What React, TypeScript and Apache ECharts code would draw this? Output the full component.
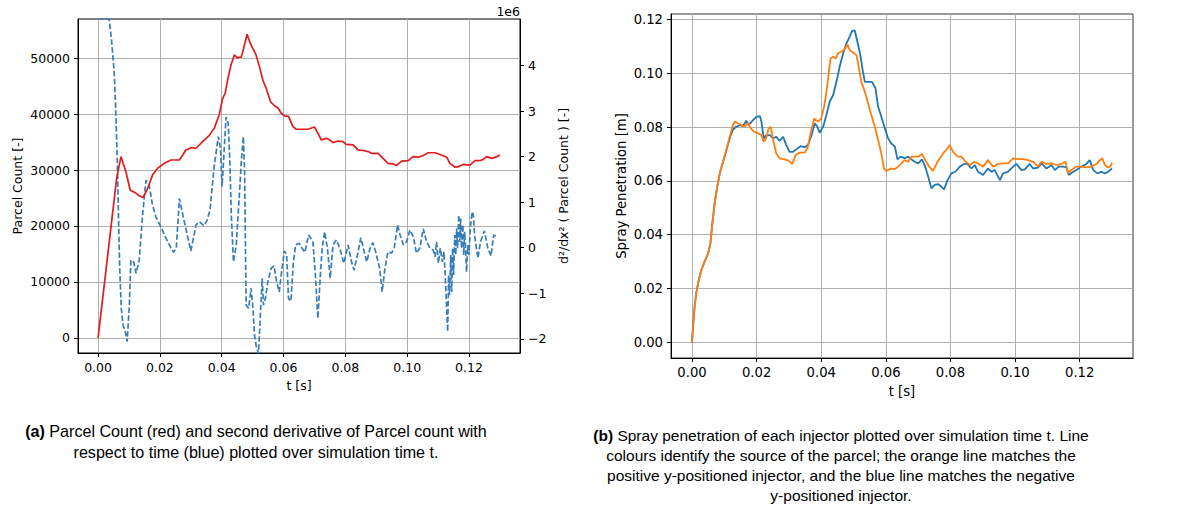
import React, { useEffect, useRef } from "react";
import * as echarts from "echarts";

// ---------- data ----------
// Left panel: Parcel count [-] over t [s]
const parcelCount: [number, number][] = [
  [0, 0], [0.006, 28500], [0.0074, 32400], [0.009, 29700], [0.0104, 26400], [0.0119, 26000],
  [0.0133, 25400], [0.0146, 25100], [0.016, 26700], [0.0176, 29100], [0.0192, 30300], [0.0214, 31200],
  [0.0236, 31800], [0.0263, 31800], [0.0274, 32700], [0.0284, 33600], [0.0301, 34000], [0.0317, 33900],
  [0.0338, 35100], [0.036, 36200], [0.0376, 37500], [0.0392, 39900], [0.0403, 42800], [0.0411, 43700],
  [0.0419, 46100], [0.043, 48800], [0.0441, 50600], [0.0449, 50100], [0.0463, 50200], [0.0471, 51800],
  [0.0482, 54300], [0.049, 53000], [0.05, 51800], [0.0511, 50600], [0.0522, 48500], [0.0533, 46100],
  [0.0544, 44600], [0.0558, 42200], [0.0571, 41500], [0.0582, 41100], [0.0592, 40200], [0.0603, 39700],
  [0.0616, 39600], [0.063, 37800], [0.0641, 37300], [0.0655, 37300], [0.0679, 37300], [0.07, 37700],
  [0.0711, 36600], [0.0722, 35400], [0.0738, 35700], [0.0749, 35400], [0.076, 34900], [0.0776, 35200],
  [0.0792, 35100], [0.0803, 34600], [0.0825, 34500], [0.0841, 33600], [0.0857, 33500], [0.0874, 33300],
  [0.0884, 33000], [0.0906, 33000], [0.0922, 32100], [0.0938, 31200], [0.0955, 31100], [0.0965, 30800],
  [0.0982, 31600], [0.1003, 31700], [0.1019, 32400], [0.1036, 32300], [0.1052, 32600], [0.1068, 33100],
  [0.109, 33100], [0.1111, 32700], [0.1128, 32300], [0.1138, 31200], [0.1155, 30500], [0.1165, 30600],
  [0.1182, 31000], [0.1203, 30900], [0.1219, 31700], [0.1236, 31700], [0.1246, 31900], [0.1257, 32400],
  [0.1274, 32100], [0.129, 32400], [0.13, 32700],
];

// Left panel: second derivative of parcel count (units of 1e6)
const secondDerivE6: [number, number][] = [
  [0, 5.02], [0.0036, 5.02], [0.0044, 4.52], [0.0052, 3.86], [0.0057, 3.06], [0.0063, 1.67],
  [0.0067, 0.35], [0.007, -0.45], [0.0075, -1.33], [0.0081, -1.7], [0.0088, -1.84], [0.0094, -2.06],
  [0.0101, -1.26], [0.0106, -0.27], [0.0115, -0.31], [0.0123, -0.56], [0.0133, -0.27], [0.0144, 0.72],
  [0.0155, 1.48], [0.0165, 1.38], [0.0176, 0.94], [0.0187, 0.68], [0.0203, 0.46], [0.0225, 0.13],
  [0.0244, -0.1], [0.0253, -0.01], [0.0263, 1.08], [0.0279, 0.57], [0.03, -0.07], [0.0317, 0.5],
  [0.0328, 0.57], [0.0342, 0.48], [0.0352, 0.59], [0.0362, 0.83], [0.0376, 1.81], [0.0389, 2.44],
  [0.0396, 2.18], [0.0401, 1.34], [0.0407, 2.03], [0.0414, 2.87], [0.0421, 2.73], [0.0426, 1.96],
  [0.0431, 0.72], [0.0438, -0.31], [0.0447, 0.06], [0.0457, 1.16], [0.0464, 1.96], [0.047, 2.44],
  [0.0474, 1.67], [0.0479, -1.26], [0.0487, -1.33], [0.0495, -0.89], [0.0501, -1.33], [0.0506, -1.92],
  [0.0512, -2.17], [0.0519, -2.32], [0.0525, -1.48], [0.0531, -0.67], [0.0535, -1.26], [0.0542, -1.08],
  [0.0549, -0.75], [0.056, -0.45], [0.0569, -0.4], [0.0578, -0.75], [0.0586, -0.97], [0.0595, -0.45],
  [0.0603, -0.07], [0.061, -0.16], [0.0616, -1.11], [0.0624, -1.17], [0.0631, -0.38], [0.0639, 0.06],
  [0.065, 0.1], [0.066, -0.01], [0.0669, -0.1], [0.0681, 0.28], [0.0695, 0.13], [0.0703, -0.6],
  [0.0711, -1.55], [0.0719, -0.6], [0.0725, -0.01], [0.0733, 0.35], [0.0742, -0.01], [0.0751, -0.67],
  [0.076, 0.06], [0.0771, 0.17], [0.0782, -0.01], [0.0795, -0.34], [0.0809, 0.06], [0.082, -0.31],
  [0.0828, -0.49], [0.0839, -0.16], [0.085, 0.22], [0.0861, -0.09], [0.0869, -0.31], [0.088, -0.01],
  [0.0889, 0.11], [0.0898, -0.09], [0.0911, -0.45], [0.0919, -0.97], [0.0928, -0.45], [0.0938, -0.09],
  [0.0949, -0.12], [0.0958, -0.01], [0.0969, 0.5], [0.0977, 0.28], [0.0988, 0.06], [0.0998, 0.13],
  [0.1009, 0.39], [0.102, 0.24], [0.103, -0.12], [0.1041, -0.01], [0.1052, 0.42], [0.1063, 0.13],
  [0.1074, -0.01], [0.1084, -0.05], [0.109, -0.2], [0.1095, 0.13], [0.1101, -0.34], [0.1107, -0.01],
  [0.1114, -0.31], [0.1119, -0.09], [0.1124, -0.75], [0.1131, -1.84], [0.1134, -0.6], [0.1137, -1.04],
  [0.1141, -0.16], [0.1144, -0.97], [0.1147, -0.01], [0.115, -0.6], [0.1154, 0.28], [0.1157, -0.16],
  [0.116, 0.42], [0.1163, -0.01], [0.1167, 0.72], [0.117, 0.13], [0.1173, 0.64], [0.1176, -0.01],
  [0.118, 0.5], [0.1183, -0.16], [0.1186, 0.35], [0.1189, -0.01], [0.1192, -0.53], [0.1196, 0.06],
  [0.12, -0.16], [0.1204, 0.42], [0.121, 0.79], [0.1214, 0.72], [0.1218, 0.28], [0.1224, -0.01],
  [0.1229, -0.23], [0.1237, 0.13], [0.125, 0.37], [0.1261, -0.01], [0.1271, -0.18], [0.128, 0.28],
  [0.1291, 0.24],
];

// Right panel: spray penetration [m], positive y-positioned injector (orange)
const penetrationPos: [number, number][] = [
  [0, 0], [0.0004, 0.0071], [0.0008, 0.0133], [0.0013, 0.0182], [0.0021, 0.0232], [0.0029, 0.0269],
  [0.0039, 0.03], [0.005, 0.0331], [0.0057, 0.0368], [0.0063, 0.0442], [0.007, 0.0516], [0.0078, 0.0578],
  [0.0086, 0.0628], [0.0096, 0.0671], [0.0106, 0.0715], [0.0117, 0.0764], [0.0125, 0.0801], [0.0132, 0.082],
  [0.0142, 0.0814], [0.0153, 0.0807], [0.0163, 0.0801], [0.0173, 0.0816], [0.0182, 0.0795], [0.0192, 0.0783],
  [0.0204, 0.0777], [0.0215, 0.077], [0.0222, 0.0746], [0.023, 0.0758], [0.0237, 0.0795], [0.0244, 0.0801],
  [0.0251, 0.0752], [0.0261, 0.0702], [0.0271, 0.0684], [0.0287, 0.068], [0.0299, 0.0675], [0.031, 0.0663],
  [0.0321, 0.0696], [0.0333, 0.0705], [0.0349, 0.0705], [0.0359, 0.0727], [0.0367, 0.0777], [0.0378, 0.0832],
  [0.039, 0.082], [0.04, 0.0832], [0.0409, 0.0876], [0.0417, 0.0938], [0.0423, 0.0999], [0.0429, 0.1055],
  [0.0437, 0.1061], [0.0445, 0.1055], [0.0452, 0.1074], [0.0462, 0.108], [0.0473, 0.1089], [0.0481, 0.1107],
  [0.0488, 0.1086], [0.0499, 0.1076], [0.0509, 0.1068], [0.0516, 0.1024], [0.0524, 0.0968], [0.0535, 0.0931],
  [0.0545, 0.0888], [0.0555, 0.0845], [0.0566, 0.0801], [0.0576, 0.0752], [0.0586, 0.0702], [0.0594, 0.0646],
  [0.0602, 0.0637], [0.0615, 0.0646], [0.0628, 0.0644], [0.0638, 0.0653], [0.0648, 0.0665], [0.0658, 0.0677],
  [0.0669, 0.0671], [0.0679, 0.069], [0.0689, 0.069], [0.07, 0.069], [0.0712, 0.07], [0.0722, 0.0677],
  [0.0733, 0.0655], [0.0746, 0.0637], [0.076, 0.0671], [0.0777, 0.0702], [0.0787, 0.0715], [0.0798, 0.0733],
  [0.0808, 0.0708], [0.0822, 0.069], [0.0834, 0.069], [0.0847, 0.0671], [0.086, 0.0659], [0.0873, 0.0671],
  [0.0885, 0.0665], [0.0901, 0.0653], [0.0916, 0.0677], [0.0932, 0.0653], [0.0947, 0.0663], [0.0963, 0.0665],
  [0.0978, 0.0665], [0.0994, 0.0684], [0.1009, 0.0681], [0.1025, 0.0681], [0.104, 0.0677], [0.1056, 0.0671],
  [0.1071, 0.0653], [0.1082, 0.0671], [0.1097, 0.0663], [0.1113, 0.0665], [0.1128, 0.0659], [0.1143, 0.0663],
  [0.1156, 0.0671], [0.1164, 0.0628], [0.1174, 0.064], [0.119, 0.0653], [0.1205, 0.0653], [0.1221, 0.065],
  [0.1236, 0.0653], [0.1252, 0.0663], [0.1262, 0.0677], [0.127, 0.0684], [0.1278, 0.0659], [0.1288, 0.065],
  [0.1296, 0.0655], [0.13, 0.0668],
];

// Right panel: spray penetration [m], negative y-positioned injector (blue)
const penetrationNeg: [number, number][] = [
  [0, 0], [0.0004, 0.0071], [0.0008, 0.0133], [0.0013, 0.0182], [0.0021, 0.0232], [0.0029, 0.0269],
  [0.0039, 0.03], [0.005, 0.0331], [0.0057, 0.0368], [0.0063, 0.0442], [0.007, 0.0516], [0.0078, 0.0578],
  [0.0086, 0.0628], [0.0096, 0.0671], [0.0106, 0.0712], [0.0117, 0.076], [0.0127, 0.0791], [0.0137, 0.0801],
  [0.0148, 0.0807], [0.0158, 0.0804], [0.0168, 0.0824], [0.0175, 0.0807], [0.0189, 0.0826], [0.0199, 0.0838],
  [0.021, 0.0841], [0.0215, 0.082], [0.0222, 0.0758], [0.023, 0.077], [0.0241, 0.077], [0.0251, 0.0758],
  [0.0261, 0.0764], [0.0271, 0.0748], [0.0282, 0.0764], [0.0292, 0.0733], [0.0302, 0.0708], [0.0313, 0.0708],
  [0.0323, 0.0717], [0.0336, 0.0729], [0.0349, 0.0725], [0.0359, 0.0733], [0.037, 0.077], [0.038, 0.0814],
  [0.0388, 0.0801], [0.0395, 0.0779], [0.0406, 0.0801], [0.0416, 0.0845], [0.0426, 0.0894], [0.0437, 0.0919],
  [0.0447, 0.0968], [0.0457, 0.1024], [0.0468, 0.1074], [0.0478, 0.1111], [0.0488, 0.1136], [0.0496, 0.1158],
  [0.0504, 0.1158], [0.0512, 0.1117], [0.0522, 0.1061], [0.0529, 0.1006], [0.0535, 0.0968], [0.0545, 0.0968],
  [0.0557, 0.0968], [0.0568, 0.0944], [0.0576, 0.0876], [0.0586, 0.0838], [0.0597, 0.0795], [0.0607, 0.0758],
  [0.0617, 0.0739], [0.0628, 0.0727], [0.0636, 0.068], [0.0646, 0.069], [0.0658, 0.0684], [0.0669, 0.069],
  [0.0679, 0.068], [0.0689, 0.0671], [0.07, 0.0665], [0.0712, 0.068], [0.072, 0.0659], [0.0731, 0.0616],
  [0.0741, 0.0572], [0.0751, 0.0585], [0.0762, 0.0588], [0.0772, 0.0578], [0.078, 0.0568], [0.0791, 0.0603],
  [0.0803, 0.0628], [0.0815, 0.0634], [0.0829, 0.0653], [0.0842, 0.0663], [0.0852, 0.0663], [0.0865, 0.0646],
  [0.0875, 0.0659], [0.0885, 0.0634], [0.0901, 0.0622], [0.0916, 0.0646], [0.0927, 0.0634], [0.0937, 0.064],
  [0.0953, 0.0603], [0.0963, 0.0628], [0.0978, 0.0634], [0.0994, 0.0653], [0.1004, 0.0663], [0.102, 0.064],
  [0.103, 0.0643], [0.1045, 0.0663], [0.1056, 0.0646], [0.1071, 0.0649], [0.1082, 0.0665], [0.1097, 0.0646],
  [0.1113, 0.0659], [0.1123, 0.064], [0.1135, 0.0653], [0.1149, 0.0653], [0.1159, 0.065], [0.1166, 0.0622],
  [0.118, 0.0634], [0.1193, 0.0643], [0.1205, 0.0653], [0.1221, 0.0663], [0.1231, 0.0677], [0.1242, 0.064],
  [0.1255, 0.0628], [0.1267, 0.0634], [0.1278, 0.0628], [0.1288, 0.0634], [0.13, 0.0646],
];

// Tick labels
const tTicks = [0, 0.02, 0.04, 0.06, 0.08, 0.1, 0.12];
const countTicks = [0, 10000, 20000, 30000, 40000, 50000];
const derivTicks = [-2, -1, 0, 1, 2, 3, 4];
const penTicks = [0, 0.02, 0.04, 0.06, 0.08, 0.1, 0.12];

const captionA = [
  "{b|(a)} Parcel Count (red) and second derivative of Parcel count with",
  "respect to time (blue) plotted over simulation time t.",
];
const captionB = [
  "{b|(b)} Spray penetration of each injector plotted over simulation time t. Line",
  "colours identify the source of the parcel; the orange line matches the",
  "positive y-positioned injector, and the blue line matches the negative",
  "y-positioned injector.",
];

const TICK_FONT = "DejaVu Sans";
const CAP_FONT = "Liberation Sans";

function axisBase(ticks: number[], fmt: (v: number) => string, grid: boolean, fs: number) {
  return {
    type: "value",
    axisLine: { show: true, onZero: false, lineStyle: { color: "#000", width: 1 } },
    axisTick: { show: true, inside: false, length: 4, customValues: ticks, lineStyle: { color: "#000", width: 1 } },
    axisLabel: {
      customValues: ticks,
      formatter: fmt,
      color: "#000",
      fontFamily: TICK_FONT,
      fontSize: fs,
      margin: 8,
      hideOverlap: false,
    },
    splitLine: { show: grid, lineStyle: { color: "#b0b0b0", width: 1 } },
    nameTextStyle: { color: "#000", fontFamily: TICK_FONT, fontSize: fs },
  };
}

const fmt2 = (v: number) => v.toFixed(2);
const fmtInt = (v: number) => String(Math.round(v));
const fmtMinus = (v: number) => (v < 0 ? "\u2212" + Math.abs(v) : String(v));

export default function App() {
  const ref = useRef<HTMLDivElement>(null);
  useEffect(() => {
    if (!ref.current) return;
    const chart = echarts.init(ref.current, null, { renderer: "svg" });
    const option: any = {
      animation: false,
      backgroundColor: "#ffffff",
      grid: [
        { left: 78, top: 19, width: 442, height: 334, show: true, borderColor: "#000", borderWidth: 1, backgroundColor: "transparent" },
        { left: 671, top: 14, width: 462, height: 344, show: true, borderColor: "#333", borderWidth: 1, backgroundColor: "transparent" },
      ],
      xAxis: [
        {
          ...axisBase(tTicks, fmt2, true, 12.5),
          gridIndex: 0,
          min: -0.0065,
          max: 0.1365,
          name: "t [s]",
          nameLocation: "middle",
          nameGap: 26,
        },
        {
          ...axisBase(tTicks, fmt2, true, 13.2),
          gridIndex: 1,
          min: -0.0065,
          max: 0.1365,
          name: "t [s]",
          nameLocation: "middle",
          nameGap: 27,
        },
      ],
      yAxis: [
        {
          ...axisBase(countTicks, fmtInt, true, 12.5),
          gridIndex: 0,
          position: "left",
          min: -2715,
          max: 57015,
          name: "Parcel Count [-]",
          nameLocation: "middle",
          nameGap: 54,
          nameRotate: 90,
        },
        {
          ...axisBase(derivTicks, fmtMinus, false, 12.5),
          gridIndex: 0,
          position: "right",
          min: -2.31,
          max: 5.02,
          name: "d²/dx² ( Parcel Count ) [-]",
          nameLocation: "middle",
          nameGap: 37,
          nameRotate: 90,
        },
        {
          ...axisBase(penTicks, fmt2, true, 13.2),
          gridIndex: 1,
          position: "left",
          min: -0.0058,
          max: 0.122,
          name: "Spray Penetration [m]",
          nameLocation: "middle",
          nameGap: 43,
          nameRotate: 90,
        },
      ],
      series: [
        {
          type: "line",
          xAxisIndex: 0,
          yAxisIndex: 1,
          data: secondDerivE6,
          showSymbol: false,
          clip: true,
          lineStyle: { color: "#377eb8", width: 1.7, type: [5.5, 2.4] },
          z: 2,
        },
        {
          type: "line",
          xAxisIndex: 0,
          yAxisIndex: 0,
          data: parcelCount,
          showSymbol: false,
          clip: true,
          lineStyle: { color: "#e41a1c", width: 1.7 },
          z: 3,
        },
        {
          type: "line",
          xAxisIndex: 1,
          yAxisIndex: 2,
          data: penetrationNeg,
          showSymbol: false,
          clip: true,
          lineStyle: { color: "#1f77b4", width: 1.8 },
          z: 2,
        },
        {
          type: "line",
          xAxisIndex: 1,
          yAxisIndex: 2,
          data: penetrationPos,
          showSymbol: false,
          clip: true,
          lineStyle: { color: "#ff7f0e", width: 1.8 },
          z: 3,
        },
      ],
      graphic: [
        {
          type: "text",
          x: 520,
          y: 11,
          style: { text: "1e6", align: "right", verticalAlign: "middle", fontFamily: TICK_FONT, fontSize: 12.5, fill: "#000" },
        },
        {
          type: "text",
          x: 256,
          y: 420,
          style: {
            text: captionA.join("\n"),
            align: "center",
            verticalAlign: "top",
            fontFamily: CAP_FONT,
            fontSize: 16.1,
            lineHeight: 21.6,
            fill: "#000",
            rich: { b: { fontWeight: "bold", fontFamily: CAP_FONT, fontSize: 16.1, lineHeight: 21.6, fill: "#000" } },
          },
        },
        {
          type: "text",
          x: 841,
          y: 425,
          style: {
            text: captionB.join("\n"),
            align: "center",
            verticalAlign: "top",
            fontFamily: CAP_FONT,
            fontSize: 15.5,
            lineHeight: 20,
            fill: "#000",
            rich: { b: { fontWeight: "bold", fontFamily: CAP_FONT, fontSize: 15.5, lineHeight: 20, fill: "#000" } },
          },
        },
      ],
    };
    chart.setOption(option);
    return () => chart.dispose();
  }, []);
  return <div ref={ref} style={{ position: "absolute", left: 0, top: 0, width: 1200, height: 506 }} />;
}
